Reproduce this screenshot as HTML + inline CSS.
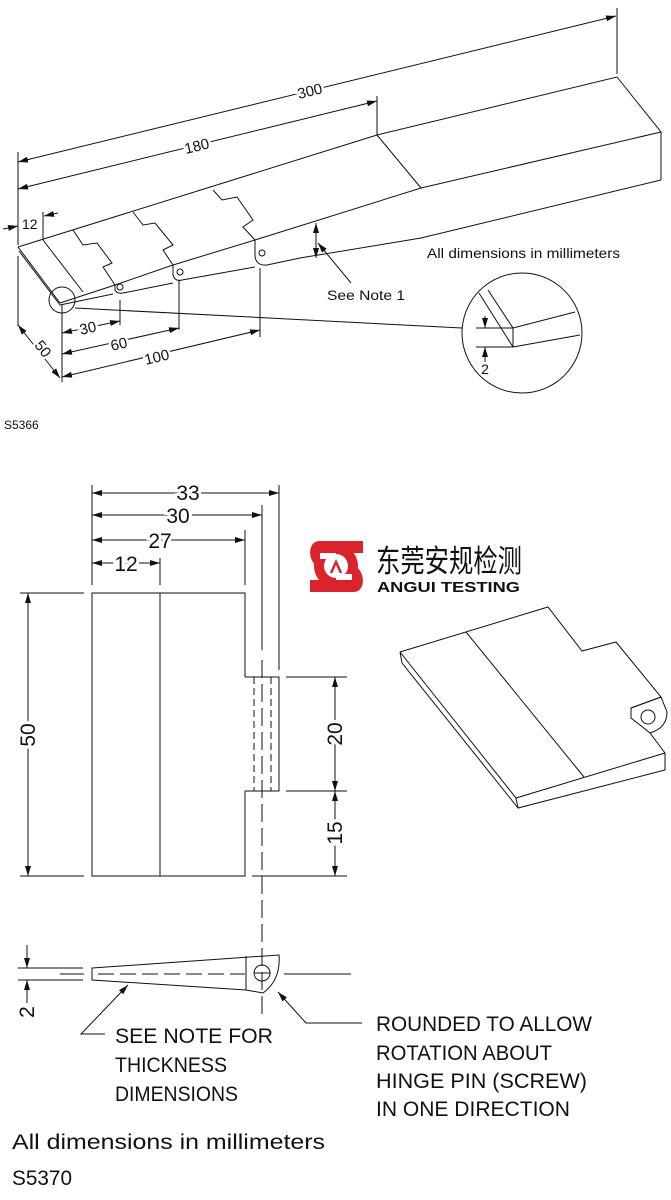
<!DOCTYPE html>
<html><head><meta charset="utf-8"><style>
html,body{margin:0;padding:0;background:#fff}
svg{display:block}
text{font-family:"Liberation Sans",sans-serif;fill:#111}
</style></head><body>
<svg width="671" height="1200" viewBox="0 0 671 1200" xmlns="http://www.w3.org/2000/svg">
<defs>
<marker id="a" viewBox="0 0 10 6" refX="10" refY="3" markerWidth="10" markerHeight="6" markerUnits="userSpaceOnUse" orient="auto-start-reverse"><path d="M0,0 L10,3 L0,6 Z" fill="#111"/></marker>
</defs>
<g fill="none" stroke="#111" stroke-width="1">
<line x1="18" y1="162" x2="616" y2="16" marker-start="url(#a)" marker-end="url(#a)"/>
<line x1="617" y1="8" x2="617" y2="74"/>
<line x1="18" y1="189" x2="377" y2="101" marker-start="url(#a)" marker-end="url(#a)"/>
<line x1="377" y1="96" x2="377" y2="135"/>
<line x1="18" y1="152" x2="18" y2="245"/>
<line x1="18" y1="256" x2="18" y2="326"/>
<polyline points="18,247 377,135 617,77 661,132 661,180"/>
<line x1="377" y1="135" x2="421" y2="188"/>
<polyline points="661,132 421,188 255,240 173,265 115,285 60,303"/>
<polyline points="661,180 421,238 300,258 267,265"/>
<path d="M255,240 L255,256 Q256,266 267,265"/>
<path d="M173,265 L173,275 Q175,282 182,280 L255,267"/>
<path d="M115,285 L115,290 Q117,294 123,293 L173,283"/>
<line x1="60" y1="305" x2="113" y2="294"/>
<line x1="18" y1="247" x2="60" y2="303"/>
<line x1="19" y1="251" x2="60" y2="305"/>
<line x1="43" y1="240" x2="83" y2="292"/>
<polyline points="73,230 83,245 97,243 112,263 103,267 115,285"/>
<polyline points="133,212 143,225 155,223 173,245 163,250 173,265"/>
<polyline points="213,190 222,200 237,197 253,220 243,227 255,240"/>
<circle cx="120" cy="287" r="3"/>
<circle cx="180" cy="272" r="3"/>
<circle cx="262" cy="253" r="3"/>
<line x1="43" y1="212" x2="43" y2="240"/>
<line x1="3" y1="229" x2="18" y2="226" marker-end="url(#a)"/>
<line x1="58" y1="213" x2="44" y2="216" marker-end="url(#a)"/>
<ellipse cx="62" cy="300" rx="13" ry="13"/>
<line x1="62" y1="305" x2="62" y2="382"/>
<line x1="120" y1="300" x2="120" y2="325"/>
<line x1="179" y1="281" x2="179" y2="330"/>
<line x1="260" y1="268" x2="260" y2="337"/>
<line x1="62" y1="333" x2="120" y2="321" marker-start="url(#a)" marker-end="url(#a)"/>
<line x1="62" y1="354" x2="179" y2="328" marker-start="url(#a)" marker-end="url(#a)"/>
<line x1="62" y1="377" x2="260" y2="330" marker-start="url(#a)" marker-end="url(#a)"/>
<line x1="18" y1="325" x2="60" y2="378" marker-start="url(#a)" marker-end="url(#a)"/>
<line x1="75" y1="308" x2="462" y2="328"/>
<circle cx="522" cy="333" r="60"/>
<line x1="479" y1="293" x2="513" y2="347"/>
<line x1="488" y1="290" x2="513" y2="328"/>
<line x1="513" y1="328" x2="575" y2="312"/>
<line x1="513" y1="347" x2="580" y2="335"/>
<line x1="513" y1="328" x2="513" y2="347"/>
<line x1="476" y1="328" x2="513" y2="328"/>
<line x1="476" y1="347" x2="513" y2="347"/>
<line x1="485" y1="316" x2="485" y2="328" marker-end="url(#a)"/>
<line x1="485" y1="362" x2="485" y2="347" marker-end="url(#a)"/>
<line x1="316" y1="223" x2="316" y2="258" marker-start="url(#a)" marker-end="url(#a)"/>
<line x1="351" y1="283" x2="318" y2="243" marker-end="url(#a)"/>

<polyline points="245,677 245,593 92,593 92,876 245,876 245,791"/>
<line x1="160" y1="593" x2="160" y2="876"/>
<polyline points="245,677 279,677 279,791 245,791"/>
<line x1="254" y1="677" x2="254" y2="791" stroke-dasharray="7,4"/>
<line x1="271" y1="677" x2="271" y2="791" stroke-dasharray="7,4"/>
<line x1="262" y1="505" x2="262" y2="650"/>
<line x1="262" y1="660" x2="262" y2="1018" stroke-dasharray="18,6"/>
<line x1="279" y1="485" x2="279" y2="670"/>
<line x1="92" y1="485" x2="92" y2="585"/>
<line x1="160" y1="558" x2="160" y2="585"/>
<line x1="245" y1="530" x2="245" y2="585"/>
<line x1="92" y1="493" x2="279" y2="493" marker-start="url(#a)" marker-end="url(#a)"/>
<line x1="92" y1="515" x2="262" y2="515" marker-start="url(#a)" marker-end="url(#a)"/>
<line x1="92" y1="540" x2="245" y2="540" marker-start="url(#a)" marker-end="url(#a)"/>
<line x1="92" y1="563" x2="160" y2="563" marker-start="url(#a)" marker-end="url(#a)"/>
<line x1="20" y1="593" x2="84" y2="593"/>
<line x1="20" y1="876" x2="84" y2="876"/>
<line x1="28" y1="593" x2="28" y2="876" marker-start="url(#a)" marker-end="url(#a)"/>
<line x1="286" y1="677" x2="347" y2="677"/>
<line x1="286" y1="791" x2="347" y2="791"/>
<line x1="252" y1="876" x2="347" y2="876"/>
<line x1="335" y1="677" x2="335" y2="791" marker-start="url(#a)" marker-end="url(#a)"/>
<line x1="335" y1="791" x2="335" y2="876" marker-start="url(#a)" marker-end="url(#a)"/>

<polyline points="400,652 548,607 582,651 616,642 661,697 631,708 631,718 650,733 665,753 665,770 518,808 402,663 400,652"/>
<polyline points="400,652 516,798 665,753"/>
<line x1="516" y1="798" x2="518" y2="808"/>
<line x1="466" y1="632" x2="584" y2="777"/>
<path d="M631,708 L661,697 L667,712 Q667,728 650,733"/>
<circle cx="648" cy="717" r="7"/>

<path d="M92,968 L279,955 Q281,980 263,993 L246,990 L92,980 Z"/>
<line x1="246" y1="956" x2="246" y2="990"/>
<circle cx="262" cy="973" r="8"/>
<line x1="254" y1="973" x2="270" y2="973"/>
<line x1="60" y1="974" x2="84" y2="974"/>
<line x1="98" y1="974" x2="245" y2="974" stroke-dasharray="16,6"/>
<line x1="284" y1="974" x2="351" y2="974"/>
<line x1="18" y1="968" x2="83" y2="968"/>
<line x1="18" y1="980" x2="83" y2="980"/>
<line x1="27" y1="945" x2="27" y2="968" marker-end="url(#a)"/>
<line x1="27" y1="1003" x2="27" y2="980" marker-end="url(#a)"/>
<polyline points="105,1034 81,1034 128,985" marker-end="url(#a)"/>
<polyline points="362,1023 306,1023 278,992" marker-end="url(#a)"/>
</g>

<g font-size="15" lengthAdjust="spacingAndGlyphs">
<text transform="translate(311,96) rotate(-13.7)" text-anchor="middle" stroke="#fff" stroke-width="5" style="paint-order:stroke">300</text>
<text transform="translate(198,151) rotate(-13.7)" text-anchor="middle" stroke="#fff" stroke-width="5" style="paint-order:stroke">180</text>
<text x="22" y="229" font-size="14">12</text>
<text transform="translate(89,333) rotate(-13)" text-anchor="middle" stroke="#fff" stroke-width="5" style="paint-order:stroke">30</text>
<text transform="translate(120,349) rotate(-13)" text-anchor="middle" stroke="#fff" stroke-width="5" style="paint-order:stroke">60</text>
<text transform="translate(158,362) rotate(-13)" text-anchor="middle" stroke="#fff" stroke-width="5" style="paint-order:stroke">100</text>
<text transform="translate(39,352) rotate(52)" text-anchor="middle" stroke="#fff" stroke-width="5" style="paint-order:stroke">50</text>
<text x="485" y="374" text-anchor="middle" font-size="14">2</text>
<text x="327" y="300" font-size="14" textLength="78" lengthAdjust="spacingAndGlyphs">See Note 1</text>
<text x="427" y="258" font-size="14" textLength="193" lengthAdjust="spacingAndGlyphs">All dimensions in millimeters</text>
<text x="4" y="429" font-size="12">S5366</text>
</g>
<g font-size="21">
<text x="188" y="500" text-anchor="middle" style="paint-order:stroke" stroke="#fff" stroke-width="6">33</text>
<text x="178" y="523" text-anchor="middle" style="paint-order:stroke" stroke="#fff" stroke-width="6">30</text>
<text x="160" y="548" text-anchor="middle" style="paint-order:stroke" stroke="#fff" stroke-width="6">27</text>
<text x="126" y="571" text-anchor="middle" style="paint-order:stroke" stroke="#fff" stroke-width="6">12</text>
<text transform="translate(35,735) rotate(-90)" text-anchor="middle" style="paint-order:stroke" stroke="#fff" stroke-width="6">50</text>
<text transform="translate(342,734) rotate(-90)" text-anchor="middle" style="paint-order:stroke" stroke="#fff" stroke-width="6">20</text>
<text transform="translate(342,833) rotate(-90)" text-anchor="middle" style="paint-order:stroke" stroke="#fff" stroke-width="6">15</text>
<text transform="translate(34,1012) rotate(-90)" text-anchor="middle">2</text>
<text x="115" y="1043" textLength="158" lengthAdjust="spacingAndGlyphs">SEE NOTE FOR</text>
<text x="115" y="1072" textLength="112" lengthAdjust="spacingAndGlyphs">THICKNESS</text>
<text x="115" y="1101" textLength="123" lengthAdjust="spacingAndGlyphs">DIMENSIONS</text>
<text x="376" y="1031" textLength="216" lengthAdjust="spacingAndGlyphs">ROUNDED TO ALLOW</text>
<text x="376" y="1060" textLength="176" lengthAdjust="spacingAndGlyphs">ROTATION ABOUT</text>
<text x="376" y="1088" textLength="211" lengthAdjust="spacingAndGlyphs">HINGE PIN (SCREW)</text>
<text x="376" y="1116" textLength="194" lengthAdjust="spacingAndGlyphs">IN ONE DIRECTION</text>
<text x="12" y="1149" textLength="313" lengthAdjust="spacingAndGlyphs">All dimensions in millimeters</text>
<text x="12" y="1185" textLength="60" lengthAdjust="spacingAndGlyphs">S5370</text>
</g>

<g>
<path d="M320,541 L363,541 L363,553 L330,553 Q320,553 320,560 L316,566 Q310,560 310,552 Q311,541 320,541 Z" fill="#d9232d"/>
<path d="M353,592 L310,592 L310,580 L343,580 Q353,580 353,573 L357,567 Q363,573 363,581 Q362,592 353,592 Z" fill="#d9232d"/>
<circle cx="336" cy="566" r="22" fill="#d9232d"/>
<circle cx="336" cy="566" r="12" fill="#fff"/>
<rect x="320" y="553" width="16" height="6" fill="#fff"/>
<rect x="336" y="574" width="16" height="6" fill="#fff"/>
<path d="M331,573 L336,562 L341,573" fill="none" stroke="#d9232d" stroke-width="2.5"/>
<text x="376" y="572" font-size="31" textLength="146" lengthAdjust="spacingAndGlyphs" style="font-family:'Liberation Sans','Noto Sans CJK SC',sans-serif">东莞安规检测</text>
<text x="377" y="592" font-size="15" font-weight="bold" textLength="143" lengthAdjust="spacingAndGlyphs">ANGUI TESTING</text>
</g>
</svg>
</body></html>
